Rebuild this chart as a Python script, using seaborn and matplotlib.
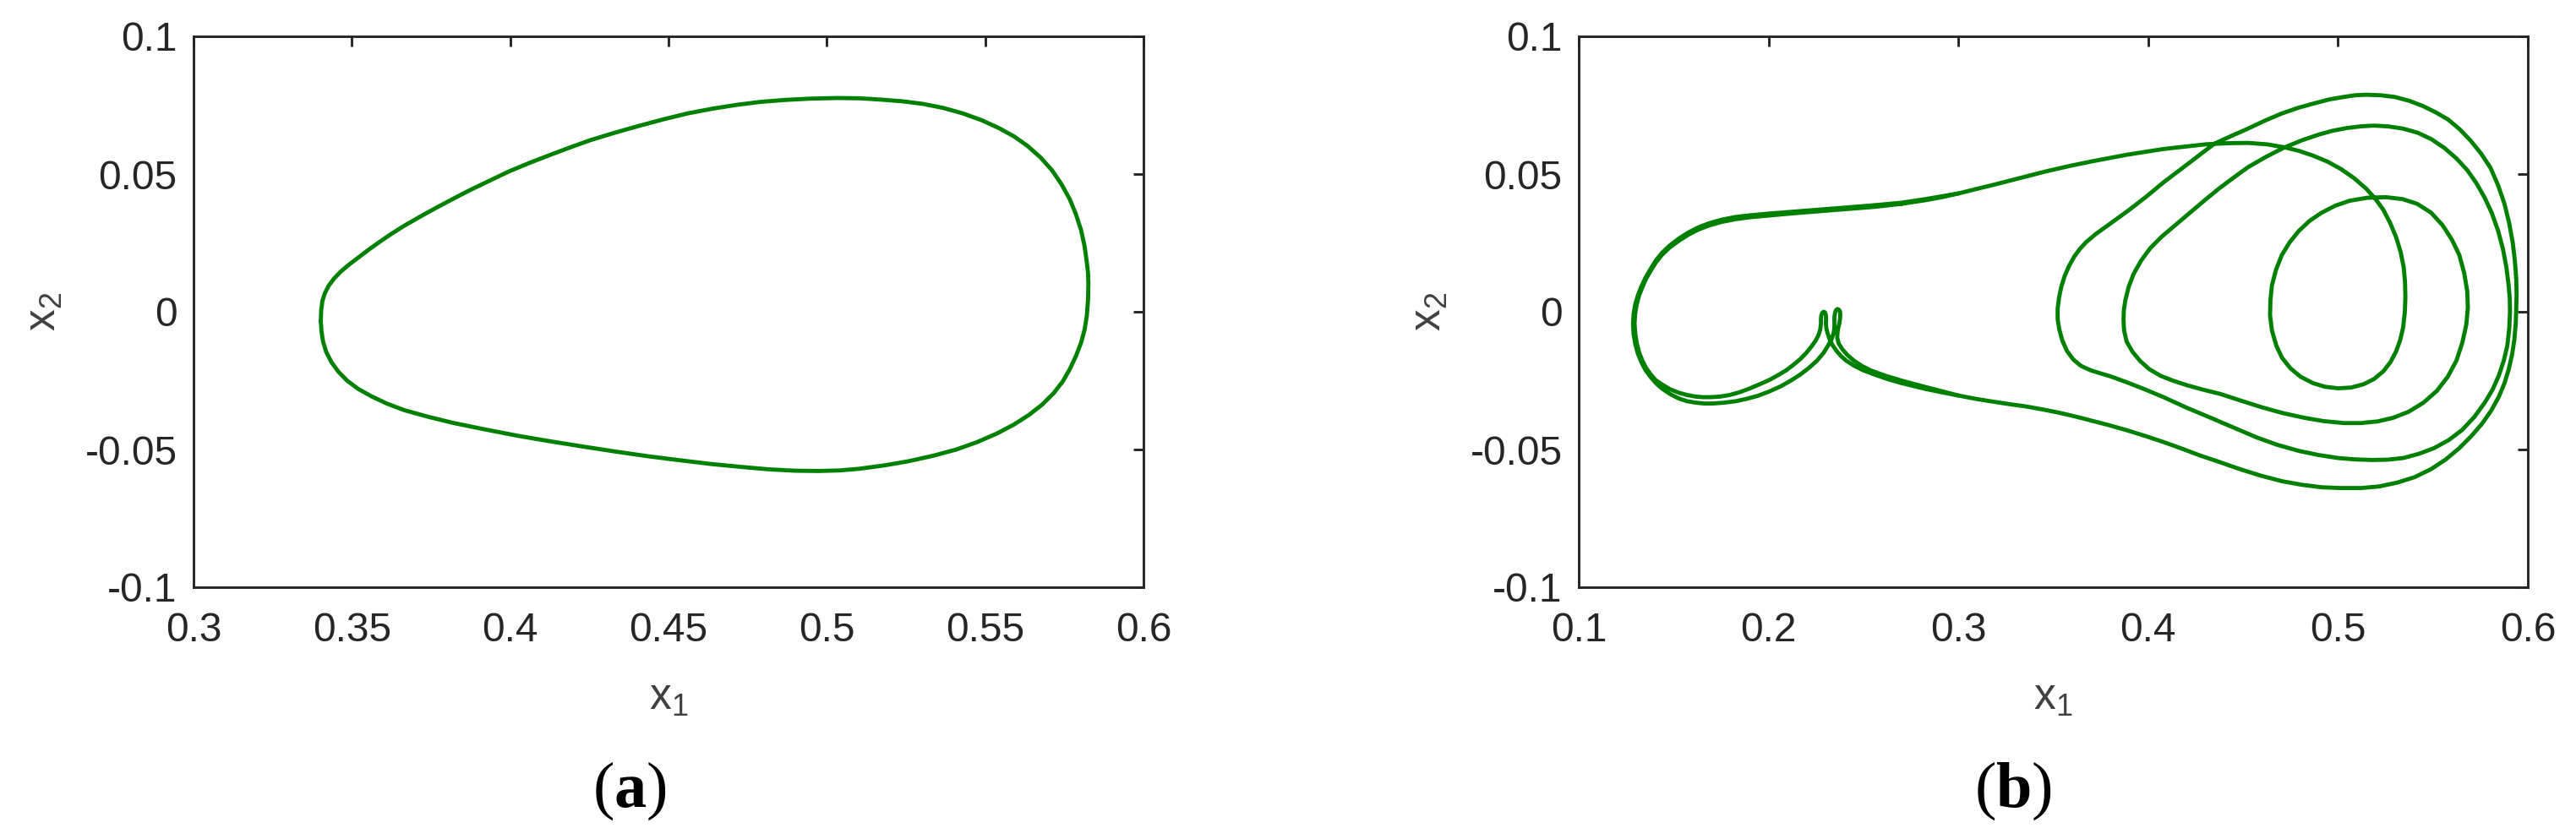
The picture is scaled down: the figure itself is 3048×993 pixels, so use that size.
import numpy as np
import matplotlib
matplotlib.use("Agg")
import matplotlib.pyplot as plt
import seaborn as sns

# === Data: (x1, x2) points along each trajectory ===
# (a) single limit cycle
CYCLE_A = [
    (0.3402, -0.0034), (0.3403, 0.0005), (0.3407, 0.0040), (0.3415, 0.0068), (0.3427, 0.0095),
    (0.3444, 0.0121), (0.3465, 0.0146), (0.3493, 0.0173), (0.3524, 0.0200), (0.3555, 0.0227),
    (0.3588, 0.0254), (0.3625, 0.0283), (0.3665, 0.0312), (0.3715, 0.0345), (0.3767, 0.0378),
    (0.3818, 0.0409), (0.3870, 0.0440), (0.3935, 0.0476), (0.3997, 0.0510), (0.4060, 0.0540),
    (0.4125, 0.0569), (0.4190, 0.0597), (0.4253, 0.0623), (0.4330, 0.0650), (0.4407, 0.0675),
    (0.4485, 0.0699), (0.4560, 0.0720), (0.4637, 0.0737), (0.4714, 0.0751), (0.4790, 0.0762),
    (0.4867, 0.0769), (0.4950, 0.0774), (0.5033, 0.0776), (0.5105, 0.0775), (0.5174, 0.0770),
    (0.5240, 0.0764), (0.5302, 0.0755), (0.5368, 0.0740), (0.5430, 0.0720), (0.5490, 0.0695),
    (0.5545, 0.0666), (0.5592, 0.0636), (0.5634, 0.0602), (0.5675, 0.0560), (0.5711, 0.0514),
    (0.5741, 0.0463), (0.5767, 0.0409), (0.5787, 0.0353), (0.5803, 0.0296), (0.5814, 0.0238),
    (0.5821, 0.0180), (0.5825, 0.0140), (0.5826, 0.0102), (0.5825, 0.0045), (0.5821, -0.0015),
    (0.5814, -0.0065), (0.5803, -0.0112), (0.5787, -0.0160), (0.5767, -0.0209), (0.5745, -0.0253),
    (0.5716, -0.0296), (0.5680, -0.0337), (0.5639, -0.0374), (0.5590, -0.0410), (0.5537, -0.0442),
    (0.5475, -0.0473), (0.5409, -0.0500), (0.5335, -0.0523), (0.5256, -0.0543), (0.5180, -0.0558),
    (0.5102, -0.0570), (0.5040, -0.0576), (0.4974, -0.0578), (0.4900, -0.0577), (0.4816, -0.0572),
    (0.4727, -0.0563), (0.4637, -0.0553), (0.4535, -0.0539), (0.4432, -0.0524), (0.4330, -0.0507),
    (0.4228, -0.0489), (0.4125, -0.0470), (0.4023, -0.0450), (0.3920, -0.0427), (0.3818, -0.0403),
    (0.3740, -0.0381), (0.3665, -0.0357), (0.3610, -0.0333), (0.3562, -0.0307), (0.3520, -0.0280),
    (0.3485, -0.0250), (0.3457, -0.0217), (0.3435, -0.0182), (0.3419, -0.0146), (0.3409, -0.0108),
    (0.3404, -0.0071), (0.3402, -0.0034),
]

# (b) main pass: top band -> nested loops on the right -> lower band -> cusp 1 -> left lobe
PATH_B = [
    (0.2701, 0.0392), (0.2826, 0.0405), (0.2920, 0.0417), (0.3003, 0.0430), (0.3090, 0.0445),
    (0.3180, 0.0460), (0.3321, 0.0485), (0.3463, 0.0510), (0.3590, 0.0530), (0.3710, 0.0547),
    (0.3887, 0.0570), (0.4081, 0.0591), (0.4304, 0.0608), (0.4420, 0.0612), (0.4526, 0.0613),
    (0.4625, 0.0608), (0.4719, 0.0597), (0.4795, 0.0584), (0.4868, 0.0567),
    (0.4945, 0.0545), (0.5016, 0.0518), (0.5085, 0.0485), (0.5150, 0.0446), (0.5198, 0.0409),
    (0.5239, 0.0370), (0.5275, 0.0322), (0.5306, 0.0271), (0.5330, 0.0217), (0.5346, 0.0162),
    (0.5353, 0.0108), (0.5355, 0.0053), (0.5352, -0.0002), (0.5343, -0.0057), (0.5328, -0.0102),
    (0.5306, -0.0144), (0.5276, -0.0183), (0.5239, -0.0216), (0.5190, -0.0244), (0.5135, -0.0263),
    (0.5070, -0.0275), (0.5001, -0.0278), (0.4930, -0.0272), (0.4868, -0.0259), (0.4803, -0.0236),
    (0.4749, -0.0205), (0.4705, -0.0167), (0.4675, -0.0123), (0.4652, -0.0068), (0.4642, -0.0013),
    (0.4644, 0.0042), (0.4652, 0.0096), (0.4673, 0.0152), (0.4704, 0.0206), (0.4745, 0.0252),
    (0.4793, 0.0293), (0.4850, 0.0330), (0.4912, 0.0359), (0.4985, 0.0385), (0.5061, 0.0403),
    (0.5155, 0.0414), (0.5253, 0.0416), (0.5340, 0.0409), (0.5417, 0.0392), (0.5490, 0.0360),
    (0.5550, 0.0315), (0.5600, 0.0262), (0.5639, 0.0206), (0.5665, 0.0140), (0.5681, 0.0074),
    (0.5684, 0.0014), (0.5676, -0.0046), (0.5655, -0.0112), (0.5624, -0.0177), (0.5578, -0.0236),
    (0.5521, -0.0287), (0.5450, -0.0330), (0.5372, -0.0363), (0.5290, -0.0385), (0.5209, -0.0398),
    (0.5120, -0.0404), (0.5031, -0.0404), (0.4925, -0.0397), (0.4823, -0.0385), (0.4710, -0.0368),
    (0.4600, -0.0347), (0.4490, -0.0323), (0.4378, -0.0298), (0.4290, -0.0283), (0.4206, -0.0267),
    (0.4130, -0.0250), (0.4064, -0.0232), (0.4005, -0.0208), (0.3958, -0.0179), (0.3917, -0.0145),
    (0.3887, -0.0109), (0.3873, -0.0068), (0.3870, -0.0027), (0.3872, 0.0008), (0.3880, 0.0043),
    (0.3897, 0.0090), (0.3923, 0.0137), (0.3962, 0.0185), (0.4011, 0.0231), (0.4070, 0.0272),
    (0.4135, 0.0310), (0.4229, 0.0365), (0.4303, 0.0408), (0.4378, 0.0450), (0.4452, 0.0488),
    (0.4526, 0.0525), (0.4622, 0.0563), (0.4719, 0.0597), (0.4808, 0.0622), (0.4897, 0.0643),
    (0.4970, 0.0657), (0.5046, 0.0667), (0.5117, 0.0673), (0.5187, 0.0676), (0.5265, 0.0673),
    (0.5342, 0.0665), (0.5420, 0.0650), (0.5491, 0.0627), (0.5560, 0.0595), (0.5625, 0.0556),
    (0.5680, 0.0515), (0.5728, 0.0468), (0.5772, 0.0415), (0.5810, 0.0359), (0.5843, 0.0295),
    (0.5869, 0.0228), (0.5887, 0.0162), (0.5899, 0.0096), (0.5905, 0.0047), (0.5906, -0.0002),
    (0.5902, -0.0062), (0.5892, -0.0123), (0.5873, -0.0178), (0.5847, -0.0232), (0.5814, -0.0283),
    (0.5773, -0.0330), (0.5718, -0.0382), (0.5654, -0.0429), (0.5583, -0.0466), (0.5506, -0.0495),
    (0.5425, -0.0516), (0.5343, -0.0531), (0.5261, -0.0537), (0.5179, -0.0538), (0.5090, -0.0536),
    (0.5001, -0.0531), (0.4897, -0.0520), (0.4793, -0.0505), (0.4680, -0.0483), (0.4571, -0.0456),
    (0.4452, -0.0421), (0.4333, -0.0386), (0.4205, -0.0349), (0.4081, -0.0310), (0.3980, -0.0281),
    (0.3887, -0.0256), (0.3800, -0.0234), (0.3750, -0.0224), (0.3695, -0.0212), (0.3645, -0.0196),
    (0.3605, -0.0173), (0.3572, -0.0142), (0.3548, -0.0105), (0.3532, -0.0065), (0.3523, -0.0027),
    (0.3523, 0.0012),
    (0.3530, 0.0050), (0.3542, 0.0090), (0.3560, 0.0130), (0.3583, 0.0166), (0.3610, 0.0200),
    (0.3640, 0.0228), (0.3675, 0.0254), (0.3725, 0.0283), (0.3780, 0.0310), (0.3840, 0.0340),
    (0.3900, 0.0370), (0.3990, 0.0418), (0.4081, 0.0470), (0.4215, 0.0540), (0.4348, 0.0610),
    (0.4437, 0.0638), (0.4526, 0.0665), (0.4615, 0.0694), (0.4704, 0.0720), (0.4793, 0.0741),
    (0.4882, 0.0758), (0.4955, 0.0771), (0.5031, 0.0780), (0.5090, 0.0786), (0.5150, 0.0788),
    (0.5225, 0.0786), (0.5298, 0.0780), (0.5375, 0.0766), (0.5447, 0.0747), (0.5515, 0.0724),
    (0.5580, 0.0698), (0.5642, 0.0662), (0.5699, 0.0621), (0.5753, 0.0575), (0.5803, 0.0523),
    (0.5843, 0.0460), (0.5877, 0.0392), (0.5902, 0.0321), (0.5921, 0.0249), (0.5932, 0.0183),
    (0.5939, 0.0118), (0.5941, 0.0063), (0.5939, 0.0009), (0.5936, -0.0046), (0.5929, -0.0101),
    (0.5917, -0.0156), (0.5899, -0.0210), (0.5876, -0.0261), (0.5847, -0.0309), (0.5806, -0.0360),
    (0.5758, -0.0407), (0.5700, -0.0453), (0.5639, -0.0495), (0.5568, -0.0536), (0.5491, -0.0571),
    (0.5405, -0.0600), (0.5313, -0.0620), (0.5218, -0.0634), (0.5120, -0.0640), (0.5015, -0.0640),
    (0.4912, -0.0637), (0.4808, -0.0628), (0.4704, -0.0615), (0.4593, -0.0595), (0.4482, -0.0571),
    (0.4378, -0.0546), (0.4274, -0.0522), (0.4178, -0.0497), (0.4081, -0.0473), (0.3985, -0.0451),
    (0.3887, -0.0430), (0.3790, -0.0411), (0.3700, -0.0395), (0.3615, -0.0380), (0.3534, -0.0367),
    (0.3440, -0.0354), (0.3350, -0.0343), (0.3265, -0.0335), (0.3180, -0.0326), (0.3090, -0.0316),
    (0.3000, -0.0304), (0.2910, -0.0292), (0.2826, -0.0280),
    (0.2701, -0.0259), (0.2630, -0.0245), (0.2567, -0.0230), (0.2500, -0.0213),
    (0.2449, -0.0195), (0.2410, -0.0178), (0.2382, -0.0161), (0.2357, -0.0141), (0.2337, -0.0121),
    (0.2322, -0.0100), (0.2312, -0.0080), (0.2305, -0.0062), (0.2302, -0.0044), (0.2303, -0.0025),
    (0.2302, -0.0011), (0.2297, -0.0002), (0.2290, 0.0000), (0.2283, -0.0004), (0.2278, -0.0013),
    (0.2276, -0.0028), (0.2276, -0.0044), (0.2272, -0.0065), (0.2263, -0.0085), (0.2247, -0.0106),
    (0.2226, -0.0126), (0.2198, -0.0150), (0.2167, -0.0172), (0.2130, -0.0193), (0.2092, -0.0213),
    (0.2048, -0.0231), (0.2003, -0.0248), (0.1950, -0.0264), (0.1899, -0.0279), (0.1848, -0.0292),
    (0.1796, -0.0302), (0.1744, -0.0308), (0.1692, -0.0310), (0.1655, -0.0310), (0.1617, -0.0308),
    (0.1570, -0.0302), (0.1528, -0.0294), (0.1480, -0.0281), (0.1439, -0.0264), (0.1405, -0.0248),
    (0.1380, -0.0228), (0.1355, -0.0204), (0.1335, -0.0177), (0.1318, -0.0147), (0.1306, -0.0115),
    (0.1298, -0.0080), (0.1294, -0.0044), (0.1297, -0.0008), (0.1306, 0.0028), (0.1318, 0.0059),
    (0.1335, 0.0089), (0.1355, 0.0120), (0.1380, 0.0150), (0.1407, 0.0180), (0.1439, 0.0207),
    (0.1480, 0.0234), (0.1528, 0.0258), (0.1578, 0.0280), (0.1632, 0.0299), (0.1690, 0.0314),
    (0.1751, 0.0326), (0.1825, 0.0336), (0.1899, 0.0343), (0.2010, 0.0350), (0.2122, 0.0357),
    (0.2270, 0.0365), (0.2419, 0.0373), (0.2560, 0.0381), (0.2701, 0.0392),
]

# (b) second pass through the left lobe (outer bottom, cusp 2)
LOBE_B = [
    (0.3003, 0.0430), (0.2920, 0.0420), (0.2826, 0.0409), (0.2701, 0.0396), (0.2560, 0.0387),
    (0.2419, 0.0379),
    (0.2270, 0.0371), (0.2122, 0.0363), (0.2010, 0.0357), (0.1899, 0.0350), (0.1825, 0.0344),
    (0.1751, 0.0334), (0.1690, 0.0322), (0.1632, 0.0307), (0.1578, 0.0288), (0.1528, 0.0266),
    (0.1480, 0.0241), (0.1439, 0.0214), (0.1407, 0.0187), (0.1380, 0.0157), (0.1352, 0.0124),
    (0.1330, 0.0092), (0.1312, 0.0060), (0.1298, 0.0028), (0.1289, -0.0008), (0.1286, -0.0044),
    (0.1289, -0.0081), (0.1298, -0.0117), (0.1311, -0.0151), (0.1330, -0.0183), (0.1352, -0.0212),
    (0.1380, -0.0238), (0.1408, -0.0260), (0.1439, -0.0279), (0.1482, -0.0299), (0.1528, -0.0315),
    (0.1572, -0.0325), (0.1617, -0.0330), (0.1660, -0.0333), (0.1706, -0.0333), (0.1765, -0.0330),
    (0.1825, -0.0325), (0.1885, -0.0316), (0.1944, -0.0305), (0.2005, -0.0289), (0.2063, -0.0271),
    (0.2117, -0.0250), (0.2167, -0.0228), (0.2214, -0.0203), (0.2256, -0.0177), (0.2290, -0.0149),
    (0.2315, -0.0121), (0.2333, -0.0098), (0.2344, -0.0074), (0.2347, -0.0054), (0.2347, -0.0034),
    (0.2347, -0.0018), (0.2350, -0.0005), (0.2355, 0.0005), (0.2362, 0.0010), (0.2370, 0.0008),
    (0.2376, 0.0002), (0.2378, -0.0010), (0.2377, -0.0024), (0.2373, -0.0042), (0.2367, -0.0059),
    (0.2363, -0.0077), (0.2362, -0.0095), (0.2370, -0.0116), (0.2389, -0.0136), (0.2415, -0.0157),
    (0.2449, -0.0177), (0.2490, -0.0196), (0.2538, -0.0213), (0.2615, -0.0232), (0.2701, -0.0250),
    (0.2826, -0.0273), (0.2910, -0.0288), (0.3000, -0.0304),
]

Y_TICKS = [-0.1, -0.05, 0, 0.05, 0.1]
Y_LABELS = ['-0.1', '-0.05', '0', '0.05', '0.1']
A_XTICKS = [0.3, 0.35, 0.4, 0.45, 0.5, 0.55, 0.6]
A_XLABELS = ['0.3', '0.35', '0.4', '0.45', '0.5', '0.55', '0.6']
B_XTICKS = [0.1, 0.2, 0.3, 0.4, 0.5, 0.6]
B_XLABELS = ['0.1', '0.2', '0.3', '0.4', '0.5', '0.6']

LINE_COLOR = '#008000'
AX_COLOR = '#262626'
LW = 3.5

sns.set_theme(style='white')
plt.rcParams['font.family'] = ['Liberation Sans', 'DejaVu Sans']
plt.rcParams['axes.unicode_minus'] = False
plt.rcParams['mathtext.fontset'] = 'custom'
plt.rcParams['mathtext.rm'] = 'Liberation Serif'
plt.rcParams['mathtext.bf'] = 'Liberation Serif:bold'
plt.rcParams['mathtext.default'] = 'regular'

W, H = 3048, 993
fig = plt.figure(figsize=(W / 100, H / 100), dpi=100)


def draw_path(ax, pts):
    xy = np.array(pts)
    sns.lineplot(x=xy[:, 0], y=xy[:, 1], sort=False, estimator=None, color=LINE_COLOR,
                 lw=LW, solid_joinstyle='round', solid_capstyle='round', ax=ax)


def style_axes(ax, xlim, xticks, xlabels):
    ax.set_xlim(*xlim)
    ax.set_ylim(-0.1, 0.1)
    ax.set_xticks(xticks)
    ax.set_xticklabels(xlabels)
    ax.set_yticks(Y_TICKS)
    ax.set_yticklabels(Y_LABELS)
    for s in ax.spines.values():
        s.set_visible(True)
        s.set_color(AX_COLOR)
        s.set_linewidth(2.1)
    ax.tick_params(axis='both', direction='in', length=8.5, width=2.1, colors=AX_COLOR,
                   labelsize=34.5, top=True, right=True)
    ax.tick_params(axis='x', pad=21)
    ax.tick_params(axis='y', pad=14)
    ax.set_xlabel('x$_1$', fontsize=37, color='#404040')
    ax.set_ylabel('x$_2$', fontsize=37, color='#404040')
    ax.xaxis.set_label_coords(0.5, -0.163)
    ax.yaxis.set_label_coords(-0.136, 0.5)
    ax.grid(False)


# axes boxes in pixels: (a) x 229-1353, (b) x 1868-2991, y 43-695
ax_a = fig.add_axes([229 / W, 1 - 695 / H, 1124 / W, 652 / H])
ax_b = fig.add_axes([1868 / W, 1 - 695 / H, 1123 / W, 652 / H])

draw_path(ax_a, CYCLE_A)
draw_path(ax_b, PATH_B)
draw_path(ax_b, LOBE_B)

style_axes(ax_a, (0.3, 0.6), A_XTICKS, A_XLABELS)
style_axes(ax_b, (0.1, 0.6), B_XTICKS, B_XLABELS)

fig.text(745 / W, 1 - 955 / H, r'$(\mathbf{a})$', ha='center', va='baseline',
         fontsize=55, family='Liberation Serif', color='black')
fig.text(2382 / W, 1 - 955 / H, r'$(\mathbf{b})$', ha='center', va='baseline',
         fontsize=55, family='Liberation Serif', color='black')

fig.savefig('out.png', dpi=100, facecolor='white')
